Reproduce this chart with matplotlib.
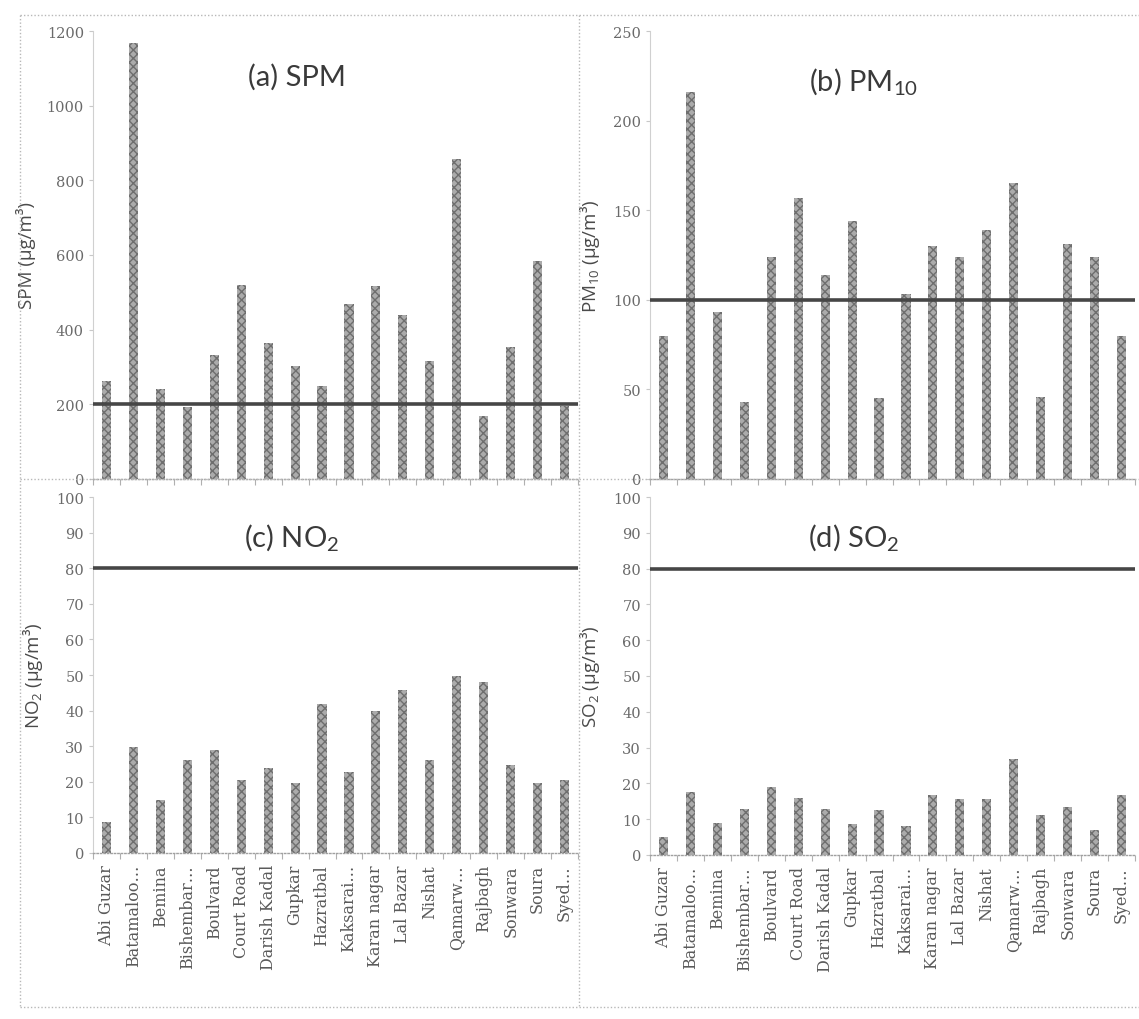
import matplotlib
matplotlib.use("Agg")
import matplotlib.pyplot as plt
import numpy as np
from matplotlib.lines import Line2D

plt.rcParams['font.family'] = ['Lato', 'DejaVu Sans']
plt.rcParams['mathtext.default'] = 'regular'
plt.rcParams['hatch.linewidth'] = 1.0

sites = ['Abi Guzar', 'Batamaloo…', 'Bemina', 'Bishembar…', 'Boulvard',
         'Court Road', 'Darish Kadal', 'Gupkar', 'Hazratbal', 'Kaksarai…',
         'Karan nagar', 'Lal Bazar', 'Nishat', 'Qamarw…', 'Rajbagh',
         'Sonwara', 'Soura', 'Syed…']

spm = [263, 1168, 240, 193, 331, 520, 365, 304, 248, 468,
       517, 440, 317, 856, 170, 353, 583, 195]
pm10 = [80, 216, 93, 43, 124, 157, 114, 144, 45, 103,
        130, 124, 139, 165, 46, 131, 124, 80]
no2 = [8.6, 29.9, 14.9, 26.2, 28.9, 20.5, 23.8, 19.8, 41.8, 22.8,
       39.8, 45.7, 26.0, 49.7, 48.0, 24.8, 19.8, 20.5]
so2 = [4.9, 17.7, 8.9, 12.8, 18.9, 16.0, 12.8, 8.7, 12.6, 8.1,
       16.7, 15.6, 15.6, 26.8, 11.3, 13.5, 6.9, 16.7]

limits = [200, 100, 80, 80]
titles = ['(a) SPM', '(b) PM$_{10}$', '(c) NO$_2$', '(d) SO$_2$']
ylabels = ['SPM (µg/m³)', 'PM$_{10}$ (µg/m³)', 'NO$_2$ (µg/m³)', 'SO$_2$ (µg/m³)']
ymax = [1200, 250, 100, 100]
ystep = [200, 50, 10, 10]
series = [spm, pm10, no2, so2]

W, H = 1139, 1020
fig = plt.figure(figsize=(W / 100, H / 100), dpi=100)

# pixel boxes: left, top(value max), right, bottom(zero)
boxes = [(93, 32, 578, 480), (650, 32, 1135, 480),
         (93, 498, 578, 854), (650, 498, 1135, 856)]
title_pos = [(0.42, 0.90), (0.44, 0.89), (0.41, 0.89), (0.42, 0.89)]

x = np.arange(len(sites))
for i, (l, t, r, b) in enumerate(boxes):
    ax = fig.add_axes([l / W, 1 - b / H, (r - l) / W, (b - t) / H])
    ax.bar(x, series[i], width=0.34, facecolor='#ababab', edgecolor='#6e6e6e',
           hatch='xxxx', linewidth=0, zorder=2)
    ax.axhline(limits[i], color='#464646', lw=2.6, zorder=3)
    ax.set_xlim(-0.5, len(sites) - 0.5)
    ax.set_ylim(0, ymax[i])
    ax.set_yticks(np.arange(0, ymax[i] + 1, ystep[i]))
    for s in ['top', 'right']:
        ax.spines[s].set_visible(False)
    ax.spines['left'].set_color('#d0d0d0')
    ax.spines['left'].set_linewidth(0.8)
    ax.spines['bottom'].set_color('#a0a0a0')
    ax.spines['bottom'].set_linestyle((0, (1, 1.5)))
    ax.spines['bottom'].set_linewidth(1.0)
    ax.tick_params(axis='y', labelsize=10.5, labelcolor='#6a6a6a', color='#c8c8c8',
                   length=3, width=0.8)
    for lab in ax.get_yticklabels():
        lab.set_family(['DejaVu Serif'])
    ax.set_xticks(np.arange(-0.5, len(sites), 1), minor=True)
    ax.tick_params(axis='x', which='minor', length=4, color='#b0b0b0', width=0.8)
    if i >= 2:
        ax.set_xticks(x)
        ax.set_xticklabels(sites, rotation=90, fontsize=11.5, color='#5a5a5a',
                           family=['DejaVu Serif'])
        ax.tick_params(axis='x', which='major', length=0, pad=8)
    else:
        ax.set_xticks([])
    ax.set_ylabel(ylabels[i], fontsize=13.5, color='#4a4a4a', labelpad=8,
                  family=['Open Sans', 'DejaVu Sans'])
    ax.text(title_pos[i][0], title_pos[i][1], titles[i], transform=ax.transAxes,
            ha='center', va='center', fontsize=21, color='#3a3a3a')

# dotted chart-area borders
dot = dict(color='#b8b8b8', lw=1.0, ls=(0, (1, 1.5)), transform=fig.transFigure)
for (x0, y0, x1, y1) in [(20, 16, 1139, 16), (20, 480, 1139, 480),
                         (20, 1008, 1139, 1008), (20, 16, 20, 1008),
                         (579, 16, 579, 1008)]:
    fig.add_artist(Line2D([x0 / W, x1 / W], [1 - y0 / H, 1 - y1 / H], **dot))

fig.savefig('out.png', dpi=100, facecolor='white')
